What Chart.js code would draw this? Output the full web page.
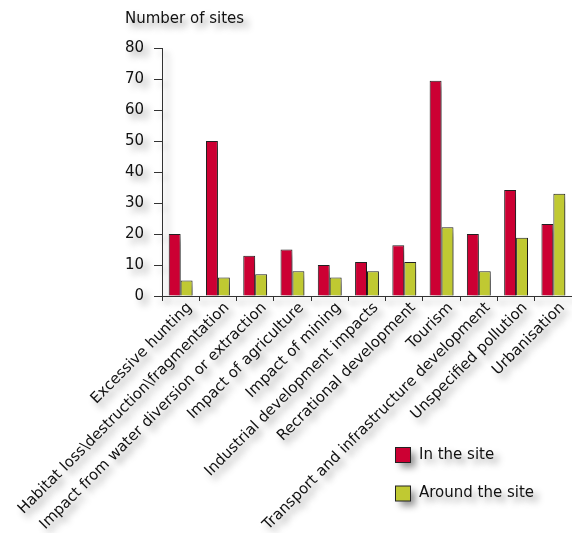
<!DOCTYPE html>
<html>
<head>
<meta charset="utf-8">
<script src="https://cdn.jsdelivr.net/npm/chart.js@4/dist/chart.umd.min.js"></script>
<style>
	html, body { margin: 0; padding: 0; background: #fff; }
	#wrap { width: 572px; height: 533px; position: relative; }
</style>
</head>
<body>
<div id="wrap"><canvas id="sitesChart"></canvas></div>
<script>
// --- data ---
const categories = [
	'Excessive hunting',
	'Habitat loss\\destruction\\fragmentation',
	'Impact from water diversion or extraction',
	'Impact of agriculture',
	'Impact of mining',
	'Industrial development impacts',
	'Recrational development',
	'Tourism',
	'Transport and infrastructure development',
	'Unspecified pollution',
	'Urbanisation'
];
const inTheSite = [20, 50, 13, 15, 10, 11, 16.4, 69.4, 20, 34.2, 23.2];
const aroundTheSite = [5, 6, 7, 8, 6, 8, 11, 22.2, 8, 18.8, 33];
const yTicks = [0, 10, 20, 30, 40, 50, 60, 70, 80];

const RED = '#cc0033';
const GREEN = '#c0c932';
const FONT = '"DejaVu Sans", Verdana, sans-serif';
const SHADOW = 'rgba(0,0,0,0.42)';

// soft drop shadow under everything, plus the legend in the lower right corner
const shadowPlugin = {
	id: 'shadowLegend',
	beforeDraw(chart) {
		const ctx = chart.ctx;
		ctx.shadowColor = SHADOW;
		ctx.shadowBlur = 7;
		ctx.shadowOffsetX = 5;
		ctx.shadowOffsetY = 5;
	},
	afterDraw(chart) {
		const ctx = chart.ctx;
		ctx.save();
		ctx.font = '15px ' + FONT;
		ctx.textBaseline = 'middle';
		chart.data.datasets.forEach((ds, i) => {
			const y = 447 + i * 38.5;
			ctx.fillStyle = ds.backgroundColor;
			ctx.strokeStyle = '#222';
			ctx.lineWidth = 1;
			ctx.fillRect(395.5, y + 0.5, 15, 15);
			ctx.shadowColor = 'transparent';
			ctx.strokeRect(395.5, y + 0.5, 15, 15);
			ctx.shadowColor = SHADOW;
			ctx.fillStyle = '#111';
			ctx.fillText(ds.label, 419, y + 8);
		});
		ctx.restore();
		ctx.shadowColor = 'transparent';
		ctx.shadowBlur = 0;
		ctx.shadowOffsetX = 0;
		ctx.shadowOffsetY = 0;
	}
};

new Chart(document.getElementById('sitesChart'), {
	type: 'bar',
	data: {
		labels: categories,
		datasets: [
			{
				label: 'In the site',
				data: inTheSite,
				backgroundColor: RED,
				borderColor: '#222',
				borderWidth: 1,
				categoryPercentage: 0.64,
				barPercentage: 1
			},
			{
				label: 'Around the site',
				data: aroundTheSite,
				backgroundColor: GREEN,
				borderColor: '#222',
				borderWidth: 1,
				categoryPercentage: 0.64,
				barPercentage: 1
			}
		]
	},
	options: {
		responsive: true,
		maintainAspectRatio: false,
		animation: false,
		layout: { padding: { left: 125, right: 0, top: 0, bottom: 0 } },
		plugins: {
			legend: { display: false },
			tooltip: { enabled: false },
			title: {
				display: true,
				text: 'Number of sites',
				align: 'start',
				color: '#111',
				font: { family: FONT, size: 15, weight: 'normal' },
				padding: { top: 10, bottom: 20 }
			}
		},
		scales: {
			x: {
				afterFit(scale) {
					scale.height = 237;
					scale.paddingLeft = 0;
					scale.paddingRight = 0;
				},
				grid: { display: true, drawOnChartArea: false, tickLength: 5, color: '#333' },
				border: { display: true, color: '#333' },
				ticks: {
					color: '#111',
					font: { family: FONT, size: 15 },
					minRotation: 45,
					maxRotation: 45,
					autoSkip: false,
					labelOffset: 9,
					padding: -2
				}
			},
			y: {
				min: 0,
				max: 80,
				afterBuildTicks(scale) {
					scale.ticks = yTicks.map(v => ({ value: v }));
				},
				afterFit(scale) {
					scale.width = 37;
				},
				grid: { display: true, drawOnChartArea: false, tickLength: 8, color: '#333' },
				border: { display: true, color: '#333' },
				ticks: {
					color: '#111',
					font: { family: FONT, size: 15 },
					padding: 10
				}
			}
		}
	},
	plugins: [shadowPlugin]
});
</script>
</body>
</html>
